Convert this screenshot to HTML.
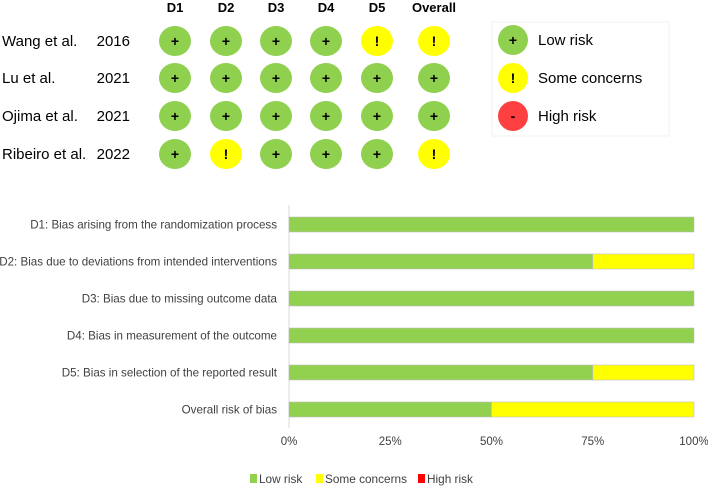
<!DOCTYPE html>
<html><head><meta charset="utf-8"><style>
html,body{margin:0;padding:0;background:#fff;}
body{width:708px;height:488px;overflow:hidden;font-family:"Liberation Sans",sans-serif;}
</style></head><body>
<svg id="c" width="708" height="488" xmlns="http://www.w3.org/2000/svg" font-family="Liberation Sans, sans-serif"></svg>
<script>
const studies=["Wang et al.","Lu et al.","Ojima et al.","Ribeiro et al."];
const years=["2016","2021","2021","2022"];
const domains=["D1","D2","D3","D4","D5","Overall"];
const judgements=[["L","L","L","L","S","S"],["L","L","L","L","L","L"],["L","L","L","L","L","L"],["L","S","L","L","L","S"]];
const barLabels=["D1: Bias arising from the randomization process","D2: Bias due to deviations from intended interventions","D3: Bias due to missing outcome data","D4: Bias in measurement of the outcome","D5: Bias in selection of the reported result","Overall risk of bias"];
const lowPct=[100,75,100,100,75,50];
const somePct=[0,25,0,0,25,50];
const highPct=[0,0,0,0,0,0];
const ticks=[0,25,50,75,100];
const NS="http://www.w3.org/2000/svg";
const svg=document.getElementById('c');
function mk(t,a,txt){const e=document.createElementNS(NS,t);for(const k in a)e.setAttribute(k,a[k]);if(txt!==undefined)e.textContent=txt;svg.appendChild(e);return e;}
const colX=[175,226,276,326,377,434];
const rowY=[41,78,116,154];
const fill={L:"#8fd14f",S:"#ffff00",H:"#ff4040"};
const sym={L:"+",S:"!",H:"-"};
domains.forEach((d,i)=>{const e=mk('text',{x:colX[i],y:12,'text-anchor':'middle','font-size':13,'font-weight':'bold'},d);

});
studies.forEach((s,r)=>{
const t=mk('text',{x:2,y:rowY[r]+5,'font-size':15},s);


const y=mk('text',{x:130,y:rowY[r]+5,'font-size':15,'text-anchor':'end'},years[r]);


judgements[r].forEach((j,c)=>{
const el=mk('ellipse',{cx:colX[c],cy:rowY[r],rx:16,ry:15,fill:fill[j]});


const tx=mk('text',{x:colX[c],y:rowY[r]+5,'text-anchor':'middle','font-size':14,'font-weight':'bold'},sym[j]);


});});
const lg=[["L","Low risk"],["S","Some concerns"],["H","High risk"]];
const lb=mk('rect',{x:492,y:22,width:177,height:114,fill:'none',stroke:'#f2f2f2'});


lg.forEach((g,i)=>{const cy=40+i*38;
const c=mk('ellipse',{cx:513,cy:cy,rx:15,ry:15,fill:fill[g[0]]});


mk('text',{x:513,y:cy+5,'text-anchor':'middle','font-size':14,'font-weight':'bold'},sym[g[0]]);
const t=mk('text',{x:538,y:cy+5,'font-size':15},g[1]);

});
const x0=289,x1=694;
const xs=v=>x0+(x1-x0)*v/100;
const y0=224.5,dy=37,bh=15;
const ys=i=>y0+i*dy;
const ax=mk('line',{x1:x0,y1:205,x2:x0,y2:428,stroke:'#d9d9d9'});


barLabels.forEach((l,i)=>{
const t=mk('text',{x:277,y:ys(i)+4,'text-anchor':'end','font-size':11.6,fill:'#404040'},l);


let acc=0;
[[lowPct,'#92d050'],[somePct,'#ffff00'],[highPct,'#ff0000']].forEach(([arr,col])=>{
if(arr[i]>0){const r=mk('rect',{x:xs(acc),y:ys(i)-bh/2,width:xs(acc+arr[i])-xs(acc),height:bh,fill:col,stroke:'#bfbfbf','stroke-width':0.6});

}
acc+=arr[i];});
});
ticks.forEach(t=>{const e=mk('text',{x:xs(t),y:445,'text-anchor':'middle','font-size':11.5,fill:'#404040'},t+'%');

});
const bl=[['#92d050','Low risk',250],['#ffff00','Some concerns',316],['#ff0000','High risk',418]];
bl.forEach(b=>{const r=mk('rect',{x:b[2],y:474,width:7,height:9,fill:b[0]});


const t=mk('text',{x:b[2]+9,y:483,'font-size':11.8,fill:'#404040'},b[1]);

});
</script>
</body></html>
